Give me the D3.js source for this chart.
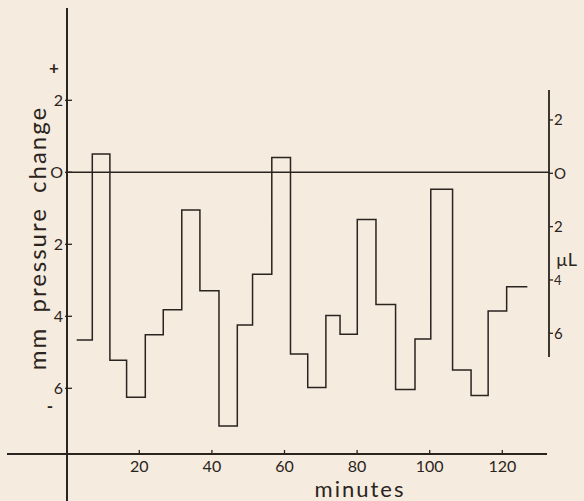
<!DOCTYPE html>
<html><head><meta charset="utf-8">
<script src="https://cdn.jsdelivr.net/npm/d3@7"></script>
<style>
html,body{margin:0;padding:0;background:#f6ebdf;}
svg{display:block;}
text{font-family:Lato,"DejaVu Sans",sans-serif;fill:#2a2420;}
</style></head><body>
<svg id="c" width="584" height="501"></svg>
<script>
// step start times (minutes) and pressure change (mm, + up)
const stepStarts = [2.75,7.05,11.9,16.5,21.65,26.6,31.7,36.7,41.95,47.0,51.2,56.5,61.65,66.4,71.4,75.3,80.05,85.2,90.6,95.95,100.3,106.3,111.4,116.1,121.2];
const stepValues = [-4.66,0.51,-5.22,-6.25,-4.51,-3.82,-1.05,-3.29,-7.05,-4.24,-2.83,0.41,-5.05,-5.98,-3.98,-4.5,-1.31,-3.67,-6.03,-4.63,-0.47,-5.49,-6.2,-3.85,-3.18];
const stepEnd = 126.9;
const xTicks = [20,40,60,80,100,120];
const yTicks = [2,0,-2,-4,-6];
const ulTicks = [-2,0,2,4,6];

const svg = d3.select("#c");
const ink = "#2a2420";
const x = d3.scaleLinear().domain([0,120]).range([66.7,502.3]);
const y = d3.scaleLinear().domain([0,-6]).range([172.3,388.3]);
const yR = d3.scaleLinear().domain([0,6]).range([173.3,333.3]);

// left axis
svg.append("line").attr("x1",67).attr("x2",67).attr("y1",8).attr("y2",501)
  .attr("stroke",ink).attr("stroke-width",2);
// x axis
svg.append("line").attr("x1",7).attr("x2",547).attr("y1",454).attr("y2",454)
  .attr("stroke",ink).attr("stroke-width",1.8);
// zero line
svg.append("line").attr("x1",67).attr("x2",549).attr("y1",y(0)).attr("y2",y(0))
  .attr("stroke",ink).attr("stroke-width",1.5);
// right axis
svg.append("line").attr("x1",549).attr("x2",549).attr("y1",90).attr("y2",357)
  .attr("stroke",ink).attr("stroke-width",1.8);

// x ticks
const gx = svg.append("g");
xTicks.forEach(t=>{
  gx.append("line").attr("x1",x(t)).attr("x2",x(t)).attr("y1",450).attr("y2",454)
    .attr("stroke",ink).attr("stroke-width",1.3);
  gx.append("text").attr("x",x(t)).attr("y",472).attr("text-anchor","middle")
    .attr("font-size",16).text(t);
});
svg.append("text").attr("x",360).attr("y",497).attr("text-anchor","middle")
  .attr("font-size",22).attr("letter-spacing",2).text("minutes");

// left y ticks
yTicks.forEach(t=>{
  svg.append("line").attr("x1",65).attr("x2",72).attr("y1",y(t)).attr("y2",y(t))
    .attr("stroke",ink).attr("stroke-width",1.3);
  svg.append("text").attr("x",63).attr("y",y(t)+5.5).attr("text-anchor","end")
    .attr("font-size",16).text(t===0?"O":Math.abs(t));
});
svg.append("text").attr("x",54).attr("y",74).attr("text-anchor","middle")
  .attr("font-size",17).attr("font-weight","bold").text("+");
svg.append("text").attr("x",50).attr("y",412).attr("text-anchor","middle")
  .attr("font-size",17).attr("font-weight","bold").text("-");
svg.append("text").attr("transform","translate(46,238) rotate(-90)")
  .attr("text-anchor","middle").attr("font-size",24).attr("letter-spacing",2)
  .attr("word-spacing",6).text("mm pressure change");

// right ticks
ulTicks.forEach(t=>{
  svg.append("line").attr("x1",549).attr("x2",553).attr("y1",yR(t)).attr("y2",yR(t))
    .attr("stroke",ink).attr("stroke-width",1.3);
  svg.append("text").attr("x",554).attr("y",yR(t)+ (t===4?5:5.5)).attr("text-anchor","start")
    .attr("font-size",t===4?13:15).text(t===0?"O":Math.abs(t));
});
svg.append("text").attr("x",556).attr("y",266).attr("font-size",18).text("µL");

// step line
const pts = stepStarts.map((s,i)=>[s,stepValues[i]]);
pts.push([stepEnd, stepValues[stepValues.length-1]]);
const line = d3.line().x(d=>x(d[0])).y(d=>y(d[1])).curve(d3.curveStepAfter);
svg.append("path").attr("d",line(pts)).attr("fill","none")
  .attr("stroke",ink).attr("stroke-width",1.5);
</script></body></html>
